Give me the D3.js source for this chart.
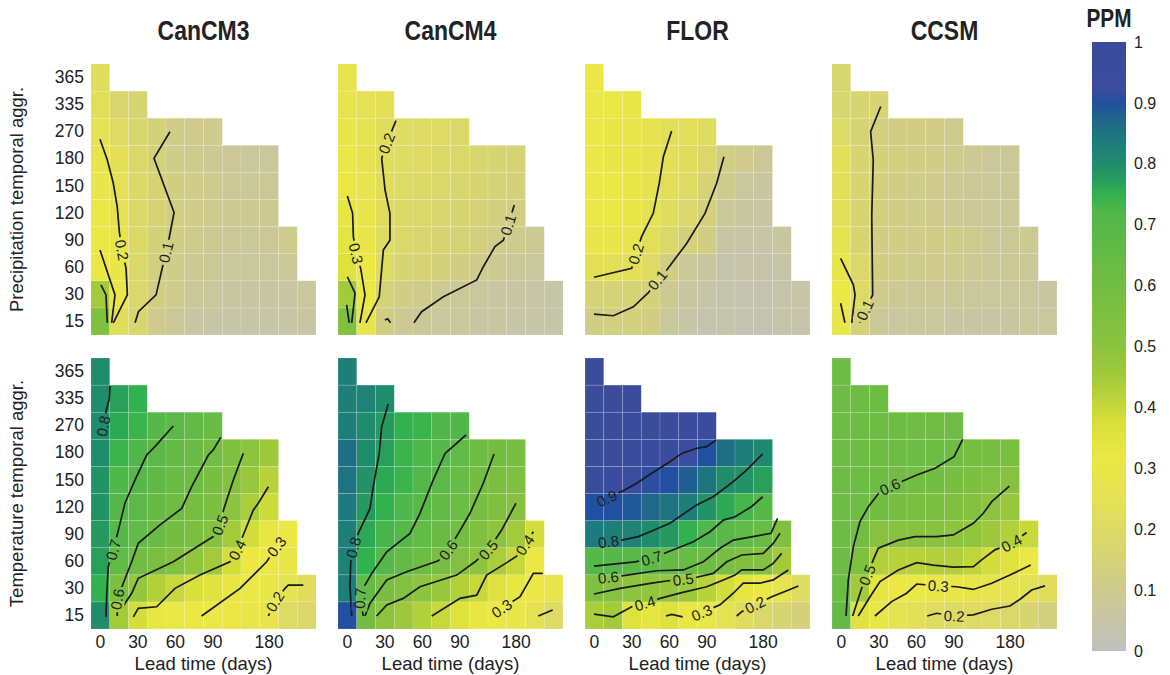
<!DOCTYPE html>
<html lang="en">
<head>
<meta charset="UTF-8">
<title>PPM by lead time and temporal aggregation</title>
<script src="https://d3js.org/d3.v7.min.js"></script>
<style>
  body { margin: 0; background: #fff; }
  svg text { font-family: "Liberation Sans", Arial, sans-serif; fill: #222; }
  .title { font-weight: bold; font-size: 28px; }
  .cb-title { font-weight: bold; font-size: 25px; }
  .tick text { font-size: 17.5px; fill: #222; }
  .axis-title { font-size: 18.5px; }
  .cb-label { font-size: 16px; }
  .clabel { font-size: 15px; }
  .cline { fill: none; stroke: #1a1a1a; stroke-width: 1.7; }
  .cell { stroke: #fff; stroke-opacity: 0.25; stroke-width: 0.6; }
</style>
</head>
<body>
<svg id="chart" width="1170" height="675"></svg>
<script>
// categories
const models = ["CanCM3", "CanCM4", "FLOR", "CCSM"];
const variables = ["Precipitation temporal aggr.", "Temperature temporal aggr."];
const aggLabels = ["15", "30", "60", "90", "120", "150", "180", "270", "335", "365"];
const leadTimes = [0, 15, 30, 45, 60, 75, 90, 120, 150, 180, 270, 335];
const leadTicks = [0, 30, 60, 90, 180];
const cbTicks = [0, 0.1, 0.2, 0.3, 0.4, 0.5, 0.6, 0.7, 0.8, 0.9, 1];

// PPM values, one row per aggregation (15 days first), one entry per lead time
const prCanCM3 = [
  [0.55, 0.22, 0.17, 0.10, 0.08, 0.06, 0.05, 0.05, 0.05, 0.05, 0.05, 0.06],
  [0.45, 0.30, 0.18, 0.12, 0.10, 0.08, 0.07, 0.06, 0.06, 0.06, 0.06, 0.07],
  [0.32, 0.30, 0.19, 0.13, 0.11, 0.09, 0.08, 0.07, 0.07, 0.07, 0.08],
  [0.32, 0.28, 0.19, 0.14, 0.12, 0.10, 0.09, 0.08, 0.08, 0.08, 0.10],
  [0.31, 0.26, 0.19, 0.15, 0.13, 0.11, 0.10, 0.09, 0.09, 0.09],
  [0.30, 0.25, 0.19, 0.15, 0.12, 0.11, 0.10, 0.08, 0.08, 0.08],
  [0.28, 0.24, 0.18, 0.14, 0.11, 0.10, 0.09, 0.08, 0.07, 0.07],
  [0.25, 0.20, 0.17, 0.14, 0.11, 0.10, 0.10],
  [0.23, 0.17, 0.16],
  [0.22]
];
const prCanCM4 = [
  [0.55, 0.28, 0.12, 0.09, 0.08, 0.07, 0.07, 0.06, 0.06, 0.05, 0.05, 0.05],
  [0.45, 0.32, 0.15, 0.12, 0.10, 0.09, 0.08, 0.07, 0.06, 0.06, 0.05, 0.05],
  [0.36, 0.32, 0.20, 0.16, 0.15, 0.14, 0.12, 0.10, 0.09, 0.08, 0.07],
  [0.34, 0.30, 0.21, 0.18, 0.17, 0.16, 0.15, 0.13, 0.11, 0.10, 0.09],
  [0.33, 0.29, 0.22, 0.19, 0.18, 0.17, 0.16, 0.15, 0.13, 0.12],
  [0.32, 0.28, 0.22, 0.20, 0.19, 0.18, 0.17, 0.16, 0.15, 0.14],
  [0.31, 0.27, 0.22, 0.21, 0.20, 0.19, 0.18, 0.17, 0.16, 0.15],
  [0.30, 0.26, 0.22, 0.21, 0.20, 0.20, 0.19],
  [0.28, 0.25, 0.24],
  [0.28]
];
const prFLOR = [
  [0.12, 0.13, 0.13, 0.12, 0.07, 0.05, 0.04, 0.04, 0.03, 0.03, 0.04, 0.04],
  [0.15, 0.15, 0.15, 0.14, 0.09, 0.06, 0.05, 0.04, 0.03, 0.03, 0.04, 0.05],
  [0.24, 0.24, 0.24, 0.20, 0.12, 0.08, 0.06, 0.04, 0.04, 0.04, 0.05],
  [0.30, 0.30, 0.28, 0.23, 0.18, 0.14, 0.12, 0.06, 0.05, 0.05, 0.06],
  [0.31, 0.31, 0.30, 0.26, 0.22, 0.18, 0.14, 0.08, 0.06, 0.06],
  [0.31, 0.31, 0.30, 0.27, 0.23, 0.20, 0.15, 0.10, 0.07, 0.06],
  [0.31, 0.30, 0.30, 0.27, 0.24, 0.22, 0.18, 0.12, 0.10, 0.08],
  [0.31, 0.30, 0.29, 0.27, 0.24, 0.23, 0.21],
  [0.31, 0.31, 0.30],
  [0.31]
];
const prCCSM = [
  [0.30, 0.14, 0.08, 0.07, 0.07, 0.07, 0.06, 0.06, 0.06, 0.06, 0.07, 0.07],
  [0.32, 0.20, 0.10, 0.09, 0.08, 0.08, 0.08, 0.07, 0.07, 0.07, 0.07, 0.06],
  [0.30, 0.18, 0.12, 0.11, 0.10, 0.10, 0.10, 0.09, 0.08, 0.08, 0.08],
  [0.27, 0.16, 0.12, 0.12, 0.11, 0.11, 0.11, 0.10, 0.08, 0.08, 0.09],
  [0.24, 0.16, 0.13, 0.12, 0.11, 0.10, 0.09, 0.08, 0.08, 0.08],
  [0.24, 0.16, 0.13, 0.12, 0.11, 0.10, 0.09, 0.08, 0.08, 0.08],
  [0.24, 0.16, 0.14, 0.13, 0.12, 0.11, 0.10, 0.09, 0.08, 0.08],
  [0.20, 0.15, 0.13, 0.12, 0.12, 0.11, 0.10],
  [0.17, 0.16, 0.16],
  [0.17]
];
const tmCanCM3 = [
  [0.80, 0.45, 0.38, 0.33, 0.32, 0.32, 0.31, 0.31, 0.30, 0.28, 0.20, 0.18],
  [0.75, 0.56, 0.48, 0.43, 0.40, 0.37, 0.35, 0.33, 0.31, 0.30, 0.27, 0.22],
  [0.77, 0.66, 0.61, 0.57, 0.54, 0.49, 0.45, 0.38, 0.32, 0.31, 0.30],
  [0.78, 0.70, 0.66, 0.63, 0.60, 0.57, 0.53, 0.45, 0.38, 0.33, 0.32],
  [0.79, 0.71, 0.68, 0.65, 0.62, 0.59, 0.56, 0.50, 0.44, 0.39],
  [0.79, 0.72, 0.70, 0.67, 0.64, 0.62, 0.58, 0.53, 0.47, 0.42],
  [0.80, 0.74, 0.72, 0.68, 0.65, 0.63, 0.60, 0.55, 0.50, 0.46],
  [0.80, 0.76, 0.74, 0.70, 0.68, 0.66, 0.64],
  [0.80, 0.77, 0.75],
  [0.80]
];
const tmCanCM4 = [
  [0.90, 0.60, 0.50, 0.46, 0.43, 0.40, 0.36, 0.33, 0.32, 0.30, 0.25, 0.20],
  [0.83, 0.66, 0.58, 0.54, 0.50, 0.47, 0.43, 0.40, 0.35, 0.33, 0.32, 0.29],
  [0.82, 0.75, 0.70, 0.66, 0.62, 0.58, 0.54, 0.50, 0.44, 0.40, 0.32],
  [0.83, 0.76, 0.73, 0.70, 0.66, 0.63, 0.60, 0.55, 0.50, 0.45, 0.38],
  [0.84, 0.78, 0.75, 0.72, 0.69, 0.65, 0.62, 0.58, 0.55, 0.52],
  [0.85, 0.79, 0.76, 0.74, 0.71, 0.68, 0.64, 0.60, 0.57, 0.55],
  [0.86, 0.80, 0.77, 0.74, 0.72, 0.70, 0.66, 0.62, 0.60, 0.58],
  [0.83, 0.80, 0.78, 0.75, 0.74, 0.72, 0.72],
  [0.83, 0.82, 0.80],
  [0.83]
];
const tmFLOR = [
  [0.44, 0.45, 0.36, 0.34, 0.36, 0.33, 0.30, 0.26, 0.22, 0.18, 0.16, 0.14],
  [0.55, 0.52, 0.50, 0.49, 0.48, 0.46, 0.42, 0.38, 0.34, 0.32, 0.28, 0.21],
  [0.70, 0.70, 0.69, 0.67, 0.65, 0.63, 0.61, 0.58, 0.55, 0.53, 0.45],
  [0.84, 0.83, 0.82, 0.80, 0.78, 0.75, 0.72, 0.69, 0.66, 0.64, 0.55],
  [0.90, 0.90, 0.89, 0.87, 0.85, 0.83, 0.79, 0.76, 0.73, 0.70],
  [0.96, 0.95, 0.93, 0.91, 0.90, 0.88, 0.85, 0.80, 0.79, 0.77],
  [0.97, 0.97, 0.96, 0.95, 0.94, 0.92, 0.90, 0.86, 0.83, 0.81],
  [0.98, 0.98, 0.98, 0.97, 0.97, 0.97, 0.97],
  [0.98, 0.98, 0.98],
  [0.98]
];
const tmCCSM = [
  [0.65, 0.35, 0.30, 0.27, 0.24, 0.21, 0.20, 0.20, 0.20, 0.18, 0.16, 0.13],
  [0.62, 0.45, 0.34, 0.32, 0.31, 0.30, 0.30, 0.29, 0.28, 0.27, 0.25, 0.22],
  [0.62, 0.55, 0.43, 0.42, 0.42, 0.43, 0.43, 0.41, 0.38, 0.35, 0.32],
  [0.62, 0.60, 0.52, 0.51, 0.51, 0.51, 0.50, 0.49, 0.46, 0.43, 0.40],
  [0.62, 0.61, 0.60, 0.58, 0.57, 0.56, 0.55, 0.53, 0.50, 0.47],
  [0.62, 0.62, 0.62, 0.61, 0.60, 0.60, 0.58, 0.56, 0.54, 0.52],
  [0.62, 0.62, 0.62, 0.62, 0.62, 0.62, 0.61, 0.59, 0.58, 0.57],
  [0.62, 0.62, 0.62, 0.62, 0.61, 0.61, 0.61],
  [0.62, 0.62, 0.62],
  [0.62]
];

// contour lines: points as [lead index, aggregation index]; lab = index of the labelled point
const ctPrCanCM3 = [
  {level: 0.2, lab: 5, pts: [[-0.02, 6.72], [0.37, 5.96], [0.69, 5.1], [0.9, 4.23], [1.01, 3.31], [1.15, 2.64], [1.37, 1.96], [1.44, 0.98], [0.69, -0.05]]},
  {level: 0.3, lab: null, pts: [[-0.02, 2.64], [0.78, 0.98], [0.6, -0.05]]},
  {level: 0.4, lab: null, pts: [[0.03, 1.35], [0.3, 0.98], [0.37, -0.05]]},
  {level: 0.1, lab: 4, pts: [[3.71, 7.0], [2.86, 6.02], [3.93, 4.02], [3.63, 2.94], [3.5, 2.55], [3.36, 2.15], [2.97, 0.98], [2.03, 0.36], [1.85, -0.05]]}
];
const ctPrCanCM4 = [
  {level: 0.2, lab: 1, pts: [[2.59, 7.41], [2.1, 6.57], [1.83, 6.02], [2.01, 4.85], [2.27, 3.99], [2.27, 3.0], [1.92, 2.64], [1.7, 0.91], [0.99, -0.05]]},
  {level: 0.3, lab: 3, pts: [[0.0, 4.63], [0.28, 3.99], [0.32, 3.13], [0.46, 2.51], [0.71, 1.96], [0.94, 0.98], [0.67, -0.05]]},
  {level: 0.4, lab: null, pts: [[0.0, 1.65], [0.41, 1.04], [0.23, -0.05]]},
  {level: 0.5, lab: null, pts: [[-0.04, 0.61], [0.1, -0.05]]},
  {level: 0.1, lab: null, pts: [[2.0, 0.05], [2.15, 0.1], [2.3, -0.05]]},
  {level: 0.1, lab: 1, pts: [[8.9, 4.3], [8.58, 3.56], [8.32, 3.0], [7.87, 2.76], [7.25, 2.02], [6.9, 1.53], [5.12, 0.91], [3.96, 0.36], [3.55, -0.05]]}
];
const ctPrFLOR = [
  {level: 0.2, lab: 5, pts: [[4.12, 7.03], [3.68, 6.08], [3.46, 5.1], [3.14, 3.99], [2.52, 3.13], [2.22, 2.49], [1.99, 1.96], [-0.02, 1.63]]},
  {level: 0.1, lab: 5, pts: [[6.91, 6.08], [6.52, 5.1], [5.9, 3.99], [4.92, 2.88], [3.86, 1.9], [3.36, 1.53], [2.88, 1.06], [2.08, 0.54], [1.01, 0.21], [-0.02, 0.27]]}
];
const ctPrCCSM = [
  {level: 0.1, lab: 5, pts: [[2.1, 7.93], [1.56, 7.0], [1.7, 5.96], [1.62, 3.87], [1.67, 0.98], [1.26, 0.42], [0.99, -0.05]]},
  {level: 0.2, lab: null, pts: [[-0.04, 2.33], [0.64, 1.35], [0.73, 0.98], [0.55, -0.05]]},
  {level: 0.3, lab: null, pts: [[-0.04, 0.67], [0.19, -0.05]]}
];
const ctTmCanCM3 = [
  {level: 0.8, lab: 3, pts: [[0.51, 8.47], [0.48, 8.01], [0.3, 7.52], [0.16, 6.99]]},
  {level: 0.7, lab: 6, pts: [[3.89, 6.99], [2.91, 6.23], [2.47, 5.92], [1.85, 5.0], [1.31, 4.14], [0.96, 3.15], [0.69, 2.42], [0.42, 1.8], [0.34, 0.82], [0.3, -0.05]]},
  {level: 0.6, lab: 9, pts: [[6.42, 6.57], [6.02, 6.11], [5.76, 5.92], [4.87, 4.75], [4.34, 3.95], [3.18, 3.34], [2.02, 2.66], [1.67, 1.98], [1.22, 1.19], [0.9, 0.6], [0.9, -0.02]]},
  {level: 0.5, lab: 3, pts: [[7.62, 5.98], [7.09, 5.0], [6.59, 3.95], [6.38, 3.34], [6.02, 2.91], [3.89, 1.98], [2.02, 1.37], [1.67, 0.82], [1.01, 0.14]]},
  {level: 0.4, lab: 4, pts: [[8.96, 4.75], [8.42, 4.14], [8.16, 3.89], [7.62, 2.97], [7.3, 2.42], [6.91, 1.98], [5.31, 1.49], [3.98, 1.0], [3.0, 0.32], [2.02, 0.26], [1.76, -0.05]]},
  {level: 0.3, lab: 1, pts: [[9.76, 2.78], [9.4, 2.54], [8.87, 1.98], [7.45, 1.0], [5.4, -0.02]]},
  {level: 0.2, lab: 3, pts: [[10.82, 1.12], [10.02, 1.12], [9.85, 1.0], [9.31, 0.51], [8.96, -0.02]]}
];
const ctTmCanCM4 = [
  {level: 0.8, lab: 6, pts: [[2.18, 7.8], [1.83, 6.97], [1.7, 5.98], [1.38, 4.75], [1.21, 3.95], [0.58, 3.03], [0.32, 2.51], [0.18, 1.98], [0.14, 1.06], [0.23, -0.02]]},
  {level: 0.7, lab: 9, pts: [[6.33, 6.66], [5.92, 6.41], [5.21, 5.98], [4.58, 5.0], [3.87, 3.77], [3.34, 3.03], [2.1, 2.35], [1.3, 1.55], [0.94, 1.12], [0.67, 0.63], [0.85, -0.02]]},
  {level: 0.6, lab: 4, pts: [[7.82, 5.96], [7.25, 4.88], [6.54, 3.77], [5.92, 3.03], [5.38, 2.42], [4.85, 2.02], [3.16, 1.61], [2.1, 1.31], [1.21, 0.45], [0.94, -0.02]]},
  {level: 0.5, lab: 2, pts: [[8.99, 4.14], [8.23, 3.15], [7.51, 2.42], [6.81, 1.98], [5.83, 1.49], [3.87, 1.06], [2.98, 0.63], [2.1, 0.39], [1.56, -0.02]]},
  {level: 0.4, lab: 1, pts: [[9.92, 3.09], [9.47, 2.6], [9.03, 2.19], [8.5, 1.95], [7.43, 1.49], [6.9, 0.75], [6.01, 0.63], [4.5, -0.02]]},
  {level: 0.3, lab: 3, pts: [[10.42, 1.55], [9.92, 1.55], [9.21, 0.69], [8.23, 0.26], [7.7, -0.02]]},
  {level: 0.2, lab: null, pts: [[10.18, -0.02], [10.95, 0.2]]}
];
const ctTmFLOR = [
  {level: 0.9, lab: 8, pts: [[6.49, 6.47], [5.99, 6.23], [5.46, 6.17], [4.66, 5.98], [4.03, 5.67], [3.06, 5.25], [2.26, 4.88], [1.46, 4.57], [0.66, 4.32]]},
  {level: 0.8, lab: 9, pts: [[8.98, 5.96], [8.13, 5.37], [7.41, 4.94], [6.34, 4.38], [5.46, 4.08], [4.03, 3.4], [2.97, 3.09], [2.34, 2.91], [1.46, 2.78], [0.75, 2.72]]},
  {level: 0.7, lab: 7, pts: [[8.98, 4.38], [8.39, 4.02], [7.5, 3.64], [6.88, 3.52], [6.17, 3.09], [5.28, 2.72], [3.94, 2.35], [3.06, 2.11], [2.17, 1.98], [-0.02, 1.82]]},
  {level: 0.6, lab: 8, pts: [[9.77, 3.58], [9.42, 3.03], [7.41, 2.78], [6.7, 2.48], [5.81, 1.98], [4.74, 1.68], [3.32, 1.65], [1.46, 1.46], [0.75, 1.41]]},
  {level: 0.5, lab: 7, pts: [[9.9, 3.03], [9.54, 2.66], [9.01, 2.29], [7.86, 2.23], [7.06, 1.98], [6.34, 1.55], [5.46, 1.41], [4.74, 1.33], [3.94, 1.28], [3.06, 1.19], [1.37, 1.0], [-0.02, 0.79]]},
  {level: 0.4, lab: 9, pts: [[9.99, 2.29], [9.54, 1.92], [9.01, 1.68], [7.86, 1.68], [7.5, 1.49], [6.88, 1.31], [5.99, 1.06], [4.66, 0.84], [3.5, 0.63], [2.7, 0.45], [1.99, 0.32], [1.01, -0.05], [-0.02, 0.05]]},
  {level: 0.3, lab: 7, pts: [[10.34, 1.68], [9.54, 1.31], [8.83, 1.19], [7.94, 1.19], [7.41, 0.82], [6.7, 0.39], [6.26, 0.26], [5.72, 0.1]]},
  {level: 0.3, lab: null, pts: [[3.82, -0.02], [4.12, 0.04], [4.71, -0.05]]},
  {level: 0.2, lab: 3, pts: [[10.88, 1.09], [10.26, 0.91], [9.46, 0.69], [8.57, 0.39], [7.86, 0.14], [7.59, -0.02]]}
];
const ctTmCCSM = [
  {level: 0.6, lab: 5, pts: [[6.47, 6.5], [6.01, 5.86], [5.0, 5.43], [4.02, 5.18], [3.22, 4.94], [2.59, 4.75], [2.06, 4.57], [1.44, 4.01], [0.99, 3.46], [0.64, 2.54], [0.37, 1.31], [0.25, -0.02]]},
  {level: 0.5, lab: 10, pts: [[8.96, 4.77], [8.02, 4.2], [7.57, 3.77], [7.04, 3.4], [5.97, 2.97], [5.08, 2.91], [3.93, 2.91], [3.04, 2.78], [1.97, 2.48], [1.7, 2.05], [1.38, 1.49], [1.08, 1.0], [0.6, -0.02]]},
  {level: 0.4, lab: 1, pts: [[9.88, 3.06], [9.08, 2.66], [8.19, 2.42], [7.48, 2.05], [7.04, 1.8], [5.97, 1.78], [4.9, 1.86], [4.02, 1.95], [3.04, 1.68], [2.06, 1.25], [1.53, 0.69], [0.9, -0.02]]},
  {level: 0.3, lab: 5, pts: [[10.1, 1.86], [8.99, 1.49], [8.02, 1.19], [7.04, 0.96], [6.15, 1.06], [5.17, 1.09], [4.02, 1.16], [3.48, 0.82], [2.68, 0.51], [1.79, -0.02]]},
  {level: 0.2, lab: 6, pts: [[10.86, 1.09], [10.15, 0.94], [9.53, 0.6], [8.99, 0.35], [8.02, 0.23], [7.04, 0.02], [6.01, -0.02], [5.08, 0.08], [4.58, -0.02]]}
];

const grids = [[prCanCM3, prCanCM4, prFLOR, prCCSM], [tmCanCM3, tmCanCM4, tmFLOR, tmCCSM]];
const contourSets = [[ctPrCanCM3, ctPrCanCM4, ctPrFLOR, ctPrCCSM], [ctTmCanCM3, ctTmCanCM4, ctTmFLOR, ctTmCCSM]];

// colour map
const colorStops = [
  [0, "#c0c0bf"], [0.07, "#c9c79c"], [0.127, "#d2cf80"], [0.18, "#dad86a"], [0.247, "#e4e155"],
  [0.32, "#ebe845"], [0.373, "#d8e03a"], [0.455, "#a0c93a"], [0.51, "#88c240"], [0.55, "#80c040"],
  [0.65, "#65ba46"], [0.72, "#50b74a"], [0.75, "#32b24e"], [0.77, "#28a05a"], [0.8, "#1f8c6c"],
  [0.84, "#1d7a7e"], [0.87, "#1f6888"], [0.9, "#2150a0"], [0.92, "#3a4d9e"], [1, "#3b4b9b"]
];
const color = d3.scaleLinear()
  .domain(colorStops.map(d => d[0]))
  .range(colorStops.map(d => d[1]))
  .interpolate(d3.interpolateRgb)
  .clamp(true);

const panelW = 225, panelH = 271;
const panelLeft = [91, 338, 585, 832];
const panelTop = [64, 358];

const svg = d3.select("#chart");

const xBand = d3.scaleBand().domain(leadTimes).range([0, panelW]);
const yBand = d3.scaleBand().domain(aggLabels).range([panelH, 0]);
const xi = d3.scaleLinear().domain([-0.5, leadTimes.length - 0.5]).range([0, panelW]);
const yi = d3.scaleLinear().domain([-0.5, aggLabels.length - 0.5]).range([panelH, 0]);
const line = d3.line().x(d => xi(d[0])).y(d => yi(d[1]));
const fmt = d3.format(".1f");

// model titles (condensed bold, squeezed horizontally)
models.forEach((m, j) => {
  svg.append("text")
    .attr("class", "title")
    .attr("transform", `translate(${panelLeft[j] + panelW / 2},40) scale(0.82,1)`)
    .attr("text-anchor", "middle")
    .text(m);
});

grids.forEach((row, i) => {
  row.forEach((grid, j) => {
    const g = svg.append("g")
      .attr("transform", `translate(${panelLeft[j]},${panelTop[i]})`);

    // cells
    const cells = [];
    grid.forEach((vals, r) => vals.forEach((v, c) => cells.push({r, c, v})));
    g.selectAll("rect.cell")
      .data(cells)
      .join("rect")
      .attr("class", "cell")
      .attr("x", d => xBand(leadTimes[d.c]))
      .attr("y", d => yBand(aggLabels[d.r]))
      .attr("width", xBand.bandwidth())
      .attr("height", yBand.bandwidth())
      .attr("fill", d => color(d.v));

    // contours, with gaps cut out under the labels
    const maskId = `gap-${i}-${j}`;
    const mask = g.append("mask").attr("id", maskId).attr("maskUnits", "userSpaceOnUse")
      .attr("x", -30).attr("y", -30).attr("width", panelW + 60).attr("height", panelH + 60);
    mask.append("rect")
      .attr("x", -30).attr("y", -30).attr("width", panelW + 60).attr("height", panelH + 60)
      .attr("fill", "white");
    const lines = g.append("g").attr("mask", `url(#${maskId})`);
    const labels = g.append("g");

    contourSets[i][j].forEach(ct => {
      lines.append("path").attr("class", "cline").attr("d", line(ct.pts));
      if (ct.lab == null) return;
      const p = ct.pts[ct.lab];
      const a = ct.pts[Math.max(0, ct.lab - 1)];
      const b = ct.pts[Math.min(ct.pts.length - 1, ct.lab + 1)];
      let ang = Math.atan2(yi(b[1]) - yi(a[1]), xi(b[0]) - xi(a[0])) * 180 / Math.PI;
      if (ang > 90) ang -= 180;
      if (ang < -90) ang += 180;
      const tf = `translate(${xi(p[0])},${yi(p[1])}) rotate(${ang})`;
      const t = labels.append("text")
        .attr("class", "clabel")
        .attr("transform", tf)
        .attr("text-anchor", "middle")
        .attr("dy", "0.36em")
        .text(fmt(ct.level));
      const w = t.node().getComputedTextLength() + 5;
      mask.append("rect")
        .attr("transform", tf)
        .attr("x", -w / 2).attr("y", -8)
        .attr("width", w).attr("height", 16)
        .attr("fill", "black");
    });

    // axes
    if (j === 0) {
      const ya = g.append("g")
        .call(d3.axisLeft(yBand).tickSize(0).tickPadding(7));
      ya.select(".domain").remove();
      svg.append("text")
        .attr("class", "axis-title")
        .attr("transform", `translate(23,${panelTop[i] + panelH / 2}) rotate(-90)`)
        .attr("text-anchor", "middle")
        .text(variables[i]);
    }
    if (i === grids.length - 1) {
      const xa = g.append("g")
        .attr("transform", `translate(0,${panelH})`)
        .call(d3.axisBottom(xBand).tickValues(leadTicks).tickSize(0).tickPadding(7));
      xa.select(".domain").remove();
      g.append("text")
        .attr("class", "axis-title")
        .attr("x", panelW / 2)
        .attr("y", panelH + 41)
        .attr("text-anchor", "middle")
        .text("Lead time (days)");
    }
  });
});

// colour bar
const cbX = 1092, cbW = 34;
const cbScale = d3.scaleLinear().domain([0, 1]).range([651, 42]);
const grad = svg.append("defs").append("linearGradient")
  .attr("id", "cbgrad")
  .attr("x1", 0).attr("y1", 1).attr("x2", 0).attr("y2", 0);
grad.selectAll("stop")
  .data(colorStops)
  .join("stop")
  .attr("offset", d => d[0])
  .attr("stop-color", d => d[1]);
svg.append("rect")
  .attr("x", cbX).attr("y", cbScale(1))
  .attr("width", cbW).attr("height", cbScale(0) - cbScale(1))
  .attr("fill", "url(#cbgrad)");
svg.selectAll("text.cb-label")
  .data(cbTicks)
  .join("text")
  .attr("class", "cb-label")
  .attr("x", cbX + cbW + 8)
  .attr("y", d => cbScale(d))
  .attr("dy", "0.35em")
  .text(d => d3.format("")(+d.toFixed(1)));
svg.append("text")
  .attr("class", "cb-title")
  .attr("transform", `translate(${cbX + cbW / 2},27) scale(0.83,1)`)
  .attr("text-anchor", "middle")
  .text("PPM");
</script>
</body>
</html>
